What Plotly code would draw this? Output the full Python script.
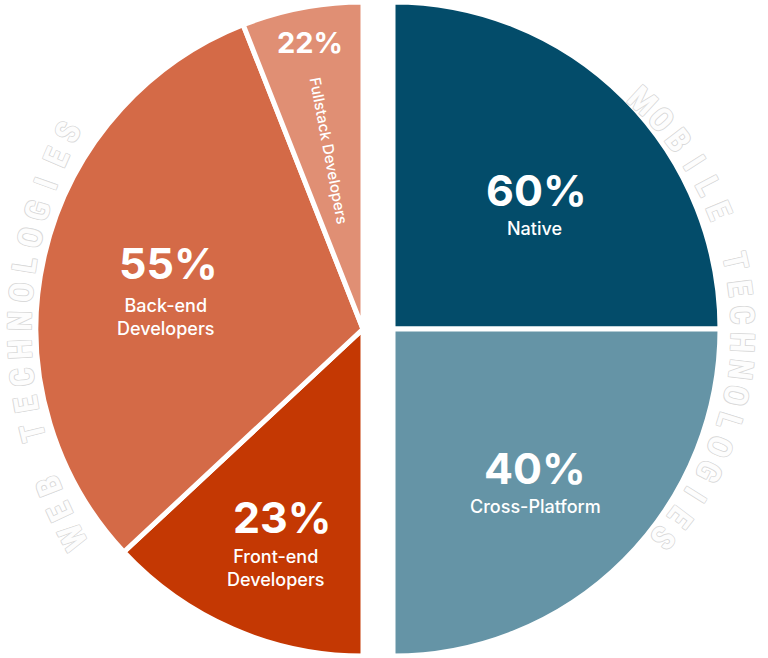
import math
import plotly.graph_objects as go

# ---- data -------------------------------------------------------------
web_labels = ["Fullstack Developers", "Back-end Developers", "Front-end Developers"]
web_pct = [22, 55, 23]
web_arc_deg = [21.5, 111.5, 47]          # arc each slice takes on the left half, as drawn
mobile_labels = ["Native", "Cross-Platform"]
mobile_pct = [60, 40]
mobile_arc_deg = [90, 90]                # arc each slice takes on the right half
ring_web = "WEB TECHNOLOGIES"
ring_mobile = "MOBILE TECHNOLOGIES"

# ---- style ------------------------------------------------------------
W, H = 768, 658
R = 327            # pie radius incl. white stroke
R_VIS = 325
WEB_C = (363, 329)
MOB_C = (393, 329)
web_colors = ["#e08f74", "#d46a47", "#c43803"]
mobile_colors = ["#034c6a", "#6594a6"]
FONT = "Inter"
CLEAR = "rgba(0,0,0,0)"

# label block: radius fraction along the bisector, offset of number, offset of text
label_style = {
    "Native": dict(rf=0.60, num=(6, -1), text=("Native", 4, 37)),
    "Cross-Platform": dict(rf=0.62, num=(0, -3), text=("Cross-Platform", 0, 35)),
    "Back-end Developers": dict(rf=0.62, num=(2, -22), text=("Back-end<br>Developers", 0, 32)),
    "Front-end Developers": dict(rf=0.68, num=(8, -15), text=("Front-end<br>Developers", 1, 36)),
}


def px(x, y):
    return x / W, 1 - y / H


def domain(c):
    cx, cy = c
    return dict(x=[(cx - R) / W, (cx + R) / W], y=[1 - (cy + R) / H, 1 - (cy - R) / H])


fig = go.Figure()
# left half: hidden right half first, then slices clockwise so fullstack ends at 12 o'clock
fig.add_trace(go.Pie(
    values=[180] + web_arc_deg[::-1], labels=["_"] + web_labels[::-1], sort=False,
    direction="clockwise", rotation=0,
    marker=dict(colors=[CLEAR] + web_colors[::-1],
                line=dict(color="white", width=[0, 5, 5, 5])),
    textinfo="none", hoverinfo="skip", domain=domain(WEB_C), showlegend=False,
))
fig.add_trace(go.Pie(
    values=mobile_arc_deg + [180], labels=mobile_labels + ["__"], sort=False,
    direction="clockwise", rotation=0,
    marker=dict(colors=mobile_colors + [CLEAR],
                line=dict(color="white", width=[5, 5, 0])),
    textinfo="none", hoverinfo="skip", domain=domain(MOB_C), showlegend=False,
))

ann = []


def add_text(x, y, text, size, weight, angle=0, color="white", shadow="none", family=FONT):
    ax, ay = px(x, y)
    ann.append(dict(x=ax, y=ay, xref="paper", yref="paper", text=text, showarrow=False,
                    xanchor="center", yanchor="middle", textangle=angle,
                    font=dict(family=family, size=size, weight=weight, color=color,
                              shadow=shadow)))


def slice_mids(arcs, ccw):
    out, start = [], 0
    for a in arcs:
        mid = start + a / 2
        out.append(90 + mid if ccw else 90 - mid)
        start += a
    return out


def block(center, lab, pct, th):
    c, s = math.cos(math.radians(th)), math.sin(math.radians(th))
    st = label_style[lab]
    bx, by = center[0] + st["rf"] * R_VIS * c, center[1] - st["rf"] * R_VIS * s
    add_text(bx + st["num"][0], by + st["num"][1], f"{pct}%", 43, 700)
    t, dx, dy = st["text"]
    add_text(bx + dx, by + dy, t, 18, 500)


# web half
for lab, pct, th in zip(web_labels, web_pct, slice_mids(web_arc_deg, True)):
    if lab.startswith("Fullstack"):
        c, s = math.cos(math.radians(th)), math.sin(math.radians(th))
        add_text(WEB_C[0] + 0.89 * R_VIS * c + 1, WEB_C[1] - 0.89 * R_VIS * s - 2,
                 f"{pct}%", 29, 700)
        add_text(WEB_C[0] + 0.56 * R_VIS * c, WEB_C[1] - 0.56 * R_VIS * s,
                 lab, 15, 500, angle=180 - th)
    else:
        block(WEB_C, lab, pct, th)

# mobile half
for lab, pct, th in zip(mobile_labels, mobile_pct, slice_mids(mobile_arc_deg, False)):
    block(MOB_C, lab, pct, th)

# faint curved titles round the outside (each on its own arc)
ring_shadow = ("-0.7px -0.7px 0 #dadada, 0.7px -0.7px 0 #dadada, "
               "-0.7px 0.7px 0 #dadada, 0.7px 0.7px 0 #dadada")
ring_font = "Liberation Sans Narrow, Roboto Condensed, Roboto"
for word, center, rad, a0, a1 in [(ring_web, (452, 330), 432, 208.6, 152.7),
                                  (ring_mobile, (432, 330), 311, 47.5, -42)]:
    step = (a1 - a0) / (len(word) - 1)
    for i, ch in enumerate(word):
        if ch == " ":
            continue
        th = a0 + i * step
        x = center[0] + rad * math.cos(math.radians(th))
        y = center[1] - rad * math.sin(math.radians(th))
        add_text(x, y, ch, 33, 700, angle=90 - th, color="#fdfdfd",
                 shadow=ring_shadow, family=ring_font)

fig.update_layout(
    width=W, height=H, margin=dict(l=0, r=0, t=0, b=0),
    paper_bgcolor="white", plot_bgcolor="white",
    annotations=ann, showlegend=False,
)
fig.write_html("out.html", config={"displayModeBar": False},
               post_script="document.body.style.margin = '0';")
